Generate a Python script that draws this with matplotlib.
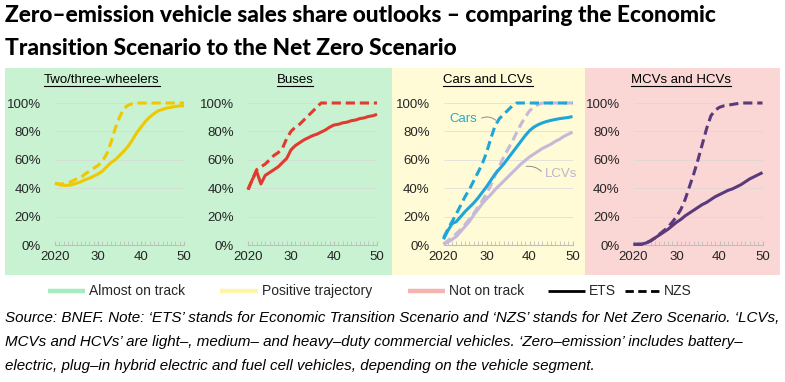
import matplotlib.pyplot as plt
from matplotlib.patches import Rectangle
from matplotlib.lines import Line2D
import numpy as np

# Data: zero-emission share of sales [%], 2020-2050
years = np.arange(2020, 2051)

two3_ets = [43.5, 42.5, 42, 42, 42.5, 43.5, 44.5, 46, 47, 48.5, 50, 52, 55, 58, 60, 63,
            66, 69.5, 74, 79, 83, 87, 90, 92.5, 94.5, 95.5, 96.5, 97, 97.5, 98, 98]
two3_nzs = [43.5, 43, 43, 43.5, 45, 46.5, 47.5, 50, 52, 54, 56, 59, 64, 72, 82, 90,
            96, 98.5, 99.5] + [100] * 12

bus_ets = [39, 46, 52, 43, 49, 51, 53, 55, 58, 61, 67, 70, 72, 74, 75.5, 77,
           78, 79.5, 81, 83, 84.5, 85, 86, 86.5, 87.5, 88, 89, 89.5, 90.5, 91, 92]
bus_nzs = [39, 46, 53, 55, 57, 60, 63, 65, 68, 75, 80, 83, 85, 88, 91, 94, 97] + [100] * 14

car_ets = [4, 10, 15, 16.5, 20, 23.5, 26.5, 29.5, 33, 37, 41, 45.5, 50, 53.5, 57, 61,
           65, 69, 73, 77, 80.5, 83, 84.7, 86, 87, 87.8, 88.4, 89, 89.4, 89.8, 90.5]
car_nzs = [5, 11, 16.5, 22, 28, 34, 39, 45, 51, 57, 65, 75, 84, 89, 92, 95, 98] + [100] * 14

lcv_ets = [0.5, 2, 4, 6, 9.5, 13, 16.5, 21, 25, 29, 32.5, 35.5, 39, 42, 45, 48,
           51, 54, 57, 59.5, 62, 64, 66, 68, 69.5, 71, 73, 74.5, 76.5, 78, 79.5]
lcv_nzs = [0.5, 3, 5.5, 8, 11, 14.5, 18, 22, 26.5, 31, 36, 42, 49, 55.5, 62, 67.5,
           73, 79, 85, 90, 94.5, 97, 99] + [100] * 8

hcv_ets = [0.5, 0.5, 0.7, 1.5, 3, 5, 7, 9, 11, 13.5, 16, 18, 20.5, 22.5, 24.5, 26.5,
           28.5, 30, 32, 34, 35.5, 37, 38.5, 39.5, 41, 42.5, 44.5, 46.5, 48, 49.5, 51]
hcv_nzs = [0.5, 0.5, 0.5, 1.5, 3, 5, 7.5, 10, 12.5, 16, 20, 25, 32, 41, 50, 60,
           71, 82, 91, 95, 97, 98, 98.5, 99, 99.5] + [100] * 6

panel_titles = ['Two/three-wheelers', 'Buses', 'Cars and LCVs', 'MCVs and HCVs']
y_ticks = [0, 20, 40, 60, 80, 100]
x_ticks = [2020, 2030, 2040, 2050]
x_labels = ['2020', '30', '40', '50']

legend_names = ['Almost on track', 'Positive trajectory', 'Not on track', 'ETS', 'NZS']

title = ('Zero\u2013emission vehicle sales share outlooks \u2013 comparing the Economic\n'
         'Transition Scenario to the Net Zero Scenario')
caption = ("Source: BNEF. Note: \u2018ETS\u2019 stands for Economic Transition Scenario and "
           "\u2018NZS\u2019 stands for Net Zero Scenario. \u2018LCVs,\n"
           "MCVs and HCVs\u2019 are light\u2013, medium\u2013 and heavy\u2013duty commercial vehicles. "
           "\u2018Zero\u2013emission\u2019 includes battery\u2013\n"
           "electric, plug\u2013in hybrid electric and fuel cell vehicles, depending on the vehicle segment.")

# Colours
green_bg, yellow_bg, pink_bg = '#c8f2d2', '#fffbd6', '#fad6d4'
green_key, yellow_key, pink_key = '#a6ecc2', '#fff4a8', '#f6b4b0'
c_two3, c_bus, c_car, c_lcv, c_hcv = '#f0c800', '#e23a2e', '#1ea6da', '#c6b8d8', '#5a3a7c'

W, H = 785, 382
TICK_FONT = ['Liberation Sans', 'DejaVu Sans']

fig = plt.figure(figsize=(W / 100, H / 100), dpi=100)
fig.patch.set_facecolor('white')


def fx(px):
    return px / W


def fy(py):
    return 1 - py / H


# coloured status backgrounds
for x0, x1, col in [(5, 392, green_bg), (392, 585, yellow_bg), (585, 780, pink_bg)]:
    fig.add_artist(Rectangle((fx(x0), fy(275)), fx(x1 - x0), (275 - 68) / H,
                             transform=fig.transFigure, facecolor=col,
                             edgecolor='none', zorder=0))

title_txt = fig.text(fx(5), fy(32), title, fontsize=15.5, fontweight='black',
                     family=['Lato', 'DejaVu Sans'], va='center', ha='left',
                     linespacing=1.65, color='black')

lefts = [55, 248, 443.5, 633.5]
title_x = [102, 295, 488, 681]
panel_series = [
    [(two3_ets, two3_nzs, c_two3)],
    [(bus_ets, bus_nzs, c_bus)],
    [(lcv_ets, lcv_nzs, c_lcv), (car_ets, car_nzs, c_car)],
    [(hcv_ets, hcv_nzs, c_hcv)],
]

axes = []
for i, left in enumerate(lefts):
    ax = fig.add_axes([fx(left), fy(245), fx(129), 142 / H])
    ax.set_facecolor('none')
    for ets, nzs, col in panel_series[i]:
        ax.plot(years, ets, color=col, lw=2.2, solid_capstyle='butt', clip_on=False, zorder=3)
        ax.plot(years, nzs, color=col, lw=2.2, dashes=(3, 1.6), clip_on=False, zorder=3)
    ax.set_xlim(2020, 2050)
    ax.set_ylim(0, 100)
    ax.set_yticks(y_ticks)
    ax.set_yticklabels([f'{v}%' for v in y_ticks])
    ax.set_xticks(x_ticks)
    ax.set_xticklabels(x_labels)
    ax.set_xticks(years, minor=True)
    ax.grid(axis='y', color='#d8d8d8', lw=0.6, alpha=0.8)
    for s in ['top', 'right', 'left']:
        ax.spines[s].set_visible(False)
    ax.spines['bottom'].set_color('#bfbfbf')
    ax.tick_params(axis='y', length=0, pad=10, labelsize=9.5, labelcolor='#262626')
    ax.tick_params(axis='x', which='both', direction='in', length=3, color='#bfbfbf',
                   pad=4, labelsize=9.5, labelcolor='#262626')
    for lab in ax.get_xticklabels() + ax.get_yticklabels():
        lab.set_family(TICK_FONT)
    axes.append(ax)

# annotations on the cars panel
ax3 = axes[2]
ax3.text(2024.5, 89, 'Cars', color='#2aa8cc', fontsize=9.5, family=TICK_FONT,
         ha='center', va='center')
ax3.annotate('', xy=(2032.6, 86.5), xytext=(2028.3, 88.5),
             arrowprops=dict(arrowstyle='-', color='#8c8c8c', lw=0.7,
                             connectionstyle='arc3,rad=-0.4'))
ax3.text(2043.6, 50, 'LCVs', color='#bfb3cf', fontsize=9.5, family=TICK_FONT,
         ha='left', va='center')
ax3.annotate('', xy=(2038.6, 55), xytext=(2043.2, 50.5),
             arrowprops=dict(arrowstyle='-', color='#8c8c8c', lw=0.7,
                             connectionstyle='arc3,rad=0.3'))

# underlined panel titles
title_texts = []
for name, cx in zip(panel_titles, title_x):
    t = fig.text(fx(cx), fy(80), name, fontsize=9.5, family=TICK_FONT,
                 ha='center', va='center', color='black')
    title_texts.append(t)

# legend drawn by hand to follow the source spacing
ly = fy(291)
keys = [(48, 85, green_key, 'solid'), (220, 258, yellow_key, 'solid'),
        (408, 445, pink_key, 'solid'), (548, 585, 'black', 'solid'),
        (625, 660, 'black', 'dashed')]
for (x0, x1, col, style), name in zip(keys, legend_names):
    lw = 3.2 if col != 'black' else 2.0
    ln = Line2D([fx(x0), fx(x1)], [ly, ly], transform=fig.transFigure, color=col, lw=lw,
                solid_capstyle='butt')
    if style == 'dashed':
        ln.set_dashes((3, 1.6))
    fig.add_artist(ln)
    fig.text(fx(x1 + 4), ly, name, fontsize=10, family=TICK_FONT, ha='left', va='center',
             color='#262626')

cap = fig.text(fx(5), fy(342), caption, fontsize=12, family=TICK_FONT, style='italic',
               ha='left', va='center', linespacing=1.55, color='black')

fig.canvas.draw()
renderer = fig.canvas.get_renderer()

# shrink caption so its longest line spans the same width as the source
cap_w = cap.get_window_extent(renderer).width
cap.set_fontsize(12 * 773 / cap_w)
cap.set_linespacing(1.92)

# widen the title so its first line ends where the source one does
ttl_w = title_txt.get_window_extent(renderer).width
title_txt.set_fontsize(15.5 * 713 / ttl_w)

for t in title_texts:
    bb = t.get_window_extent(renderer)
    yline = (bb.y0 + 0.5) / H
    fig.add_artist(Line2D([bb.x0 / W, bb.x1 / W], [yline, yline], transform=fig.transFigure,
                          color='black', lw=0.8))

fig.savefig('out.png', dpi=100)
